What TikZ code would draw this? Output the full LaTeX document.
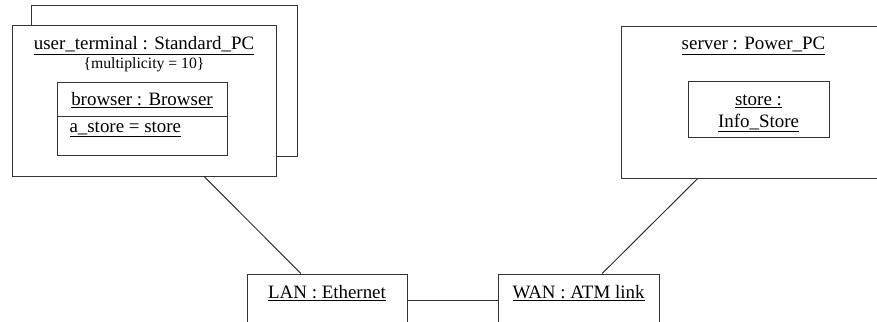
\documentclass[tikz,border=0pt]{standalone}
\usepackage{fontspec}
\setmainfont{Liberation Serif}
\usetikzlibrary{calc,positioning}
\newcommand{\pxl}{0.75pt}

\begin{document}
\begin{tikzpicture}[
    x=0.75pt, y=-0.75pt,
    line width=0.75pt,
    box/.style={rectangle, draw=black!80, fill=white, inner sep=0},
    lbl/.style={anchor=base, inner sep=0, font=\fontsize{14.2}{17}\selectfont},
    small/.style={anchor=base, inner sep=0, font=\fontsize{11.8}{14}\selectfont},
    link/.style={draw=black!80}]
\useasboundingbox (0,0) rectangle (877,321);
\clip (0,0) rectangle (877,321);

% user terminal (stacked, multiplicity)
\node[box, minimum width=266*\pxl, minimum height=150*\pxl] (termback) at (164,81) {};
\node[box, minimum width=264*\pxl, minimum height=150*\pxl] (term) at (144,101) {};
\node[lbl] (termtitle) at (144,49.5) {\underline{user\_terminal : Standard\_PC}};
\node[small] (termmult) at (144,69) {\{multiplicity = 10\}};

\node[box, minimum width=170*\pxl, minimum height=73*\pxl] (browser) at (142,118.5) {};
\draw[link] ([yshift=-35*\pxl]browser.north west) -- ([yshift=-35*\pxl]browser.north east);
\node[lbl] (browsertitle) at (142,105) {\underline{browser : Browser}};
\node[lbl, anchor=base west] (browserattr) at (69,132) {\underline{a\_store = store}};

% server
\node[box, minimum width=268*\pxl, minimum height=151*\pxl] (server) at (755,102.5) {};
\node[lbl] (servertitle) at (753.5,50) {\underline{server : Power\_PC}};
\node[box, minimum width=141*\pxl, minimum height=56*\pxl] (store) at (758.5,109) {};
\node[lbl] (storetop) at (758.5,105) {\underline{store :}};
\node[lbl] (storebot) at (758.5,127) {\underline{Info\_Store}};

% networks
\node[box, minimum width=160*\pxl, minimum height=52*\pxl] (lan) at (327,300) {};
\node[lbl] (lantitle) at (327,298.5) {\underline{LAN : Ethernet}};
\node[box, minimum width=161*\pxl, minimum height=52*\pxl] (wan) at (578.5,300) {};
\node[lbl] (wantitle) at (578.5,298.5) {\underline{WAN : ATM link}};

\draw[link] ($(term.south west)!.727!(term.south east)$) -- ($(lan.north west)!.3375!(lan.north east)$);
\draw[link] ($(server.south west)!.287!(server.south east)$) -- ($(wan.north west)!.646!(wan.north east)$);
\draw[link] (lan) -- (wan);

\end{tikzpicture}
\end{document}
